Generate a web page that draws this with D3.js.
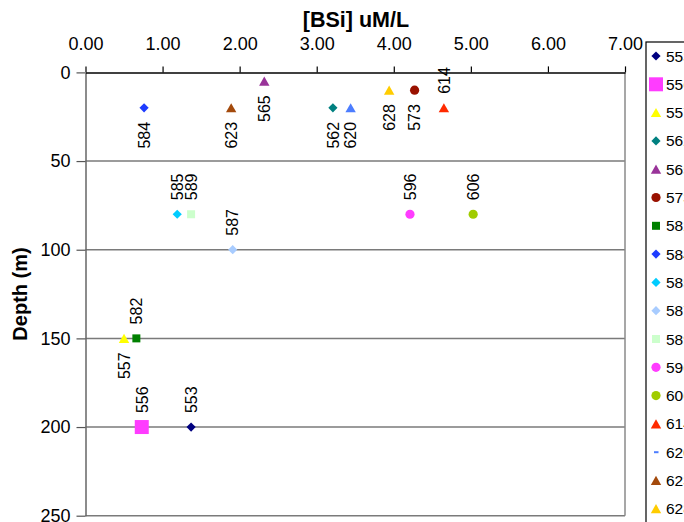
<!DOCTYPE html>
<html><head><meta charset="utf-8">
<script src="https://cdn.jsdelivr.net/npm/d3@7"></script>
<style>html,body{margin:0;padding:0;background:#fff;} svg{display:block;font-family:"Liberation Sans",Arial,sans-serif;}</style>
</head><body><svg id="c" width="684" height="522"></svg>
<script>
// ---- data ----
const stations = ["553","556","557","562","565","573","582","584","585","587","589","596","606","614","620","623","628"];
const bsi      = [1.37, 0.73, 0.50, 3.21, 2.32, 4.27, 0.66, 0.76, 1.19, 1.91, 1.37, 4.21, 5.03, 4.65, 3.44, 1.89, 3.94];
const depth    = [200,  200,  150,  20,   5,    10,   150,  20,   80,   100,  80,   80,   80,   20,   20,   20,   10];
const xTicks = [0,1,2,3,4,5,6,7];
const yTicks = [0,50,100,150,200,250];
const xTitle = "[BSi] uM/L";
const yTitle = "Depth (m)";

// ---- styles ----
const colors = ["#000080","#FF3CFF","#FFFF00","#008080","#993399","#991100","#008000","#1E3CFF","#00CCFF","#A8CCFF","#CCFFCC","#FF3CFF","#A0CC00","#FF2A00","#4C7DFF","#A34A0C","#FFCC00"];
const shapes = ["diamond","bigsquare","triangle","diamond","triangle","circle","square","diamond","diamond","diamond","square","circle","circle","triangle","triangle","triangle","triangle"];
const labelAbove = new Set(["614","585","589","587","582","556","553","596","606"]);

const svg = d3.select("#c");
const x = d3.scaleLinear().domain([0,7]).range([85.5,625]);
const y = d3.scaleLinear().domain([0,250]).range([72.4,515.7]);

function shapePath(s, legend){
  const p = d3.path();
  if (s==="diamond"){ const r=4.6; p.moveTo(0,-r);p.lineTo(r,0);p.lineTo(0,r);p.lineTo(-r,0);p.closePath(); }
  else if (s==="square"){ const r=4; p.rect(-r,-r,2*r,2*r); }
  else if (s==="bigsquare"){ const r=7; p.rect(-r,-r,2*r,2*r); }
  else if (s==="triangle"){ p.moveTo(0,-4.7);p.lineTo(5.2,4.5);p.lineTo(-5.2,4.5);p.closePath(); }
  else if (s==="circle"){ p.arc(0,0,4.6,0,2*Math.PI); }
  else if (s==="dash"){ p.rect(-2,-1,4.5,2); }
  return p.toString();
}

// gridlines
const g = svg.append("g");
g.selectAll("line.grid").data(yTicks.filter(d=>d>0)).join("line")
  .attr("x1",x(0)).attr("x2",x(7)).attr("y1",d=>y(d)).attr("y2",d=>y(d))
  .attr("stroke","#7a7a7a").attr("stroke-width",1.5);
// right border
g.append("line").attr("x1",x(7)).attr("x2",x(7)).attr("y1",y(0)).attr("y2",y(250))
  .attr("stroke","#8a8a8a").attr("stroke-width",1.5);

// y axis
const ya = svg.append("g").attr("transform",`translate(${x(0)},0)`)
  .call(d3.axisLeft(y).tickValues(yTicks).tickSize(9).tickSizeOuter(0).tickPadding(6).tickFormat(d3.format("d")));
ya.select(".domain").attr("stroke","#666").attr("stroke-width",1.5);
ya.selectAll(".tick line").attr("stroke","#555").attr("stroke-width",1.2);
ya.selectAll(".tick text").attr("font-size",18).attr("fill","#000").attr("font-family","Liberation Sans, Arial, sans-serif");

// x axis (top)
const xa = svg.append("g").attr("transform",`translate(0,${y(0)})`)
  .call(d3.axisTop(x).tickValues(xTicks).tickSize(6).tickSizeOuter(0).tickPadding(16).tickFormat(d3.format(".2f")));
xa.select(".domain").attr("stroke","#000").attr("stroke-width",1.5);
xa.selectAll(".tick line").attr("stroke","#000").attr("stroke-width",1.2);
xa.selectAll(".tick text").attr("font-size",18).attr("fill","#000").attr("font-family","Liberation Sans, Arial, sans-serif");

// titles
svg.append("text").attr("x",356).attr("y",27).attr("text-anchor","middle")
  .attr("font-size",21.5).attr("font-weight","bold").text(xTitle);
svg.append("text").attr("transform","translate(27,294) rotate(-90)").attr("text-anchor","middle")
  .attr("font-size",20).attr("font-weight","bold").text(yTitle);

// points
const pts = stations.map((s,i)=>({s, v:bsi[i], d:depth[i], c:colors[i], sh:shapes[i]}));
svg.append("g").selectAll("path").data(pts).join("path")
  .attr("transform",d=>`translate(${x(d.v)},${y(d.d)})`)
  .attr("d",d=>shapePath(d.sh)).attr("fill",d=>d.c);

// labels
svg.append("g").selectAll("text").data(pts).join("text")
  .attr("transform",d=>`translate(${x(d.v)},${y(d.d)}) rotate(-90)`)
  .attr("x",d=>labelAbove.has(d.s)?14:-14)
  .attr("dy","0.36em")
  .attr("text-anchor",d=>labelAbove.has(d.s)?"start":"end")
  .attr("font-size",16).attr("fill","#000").text(d=>d.s);

// legend
const lg = svg.append("g");
lg.append("rect").attr("x",646).attr("y",42).attr("width",200).attr("height",600)
  .attr("fill","#fff").attr("stroke","#000").attr("stroke-width",1.2);
const ent = lg.selectAll("g.e").data(pts).join("g")
  .attr("transform",(d,i)=>`translate(656,${56+i*28.3})`);
ent.append("path").attr("d",d=>shapePath(d.s==="620"?"dash":d.sh)).attr("fill",d=>d.c);
ent.append("text").attr("x",10).attr("dy","0.36em").attr("font-size",15.5).attr("fill","#000").text(d=>d.s);
</script></body></html>
